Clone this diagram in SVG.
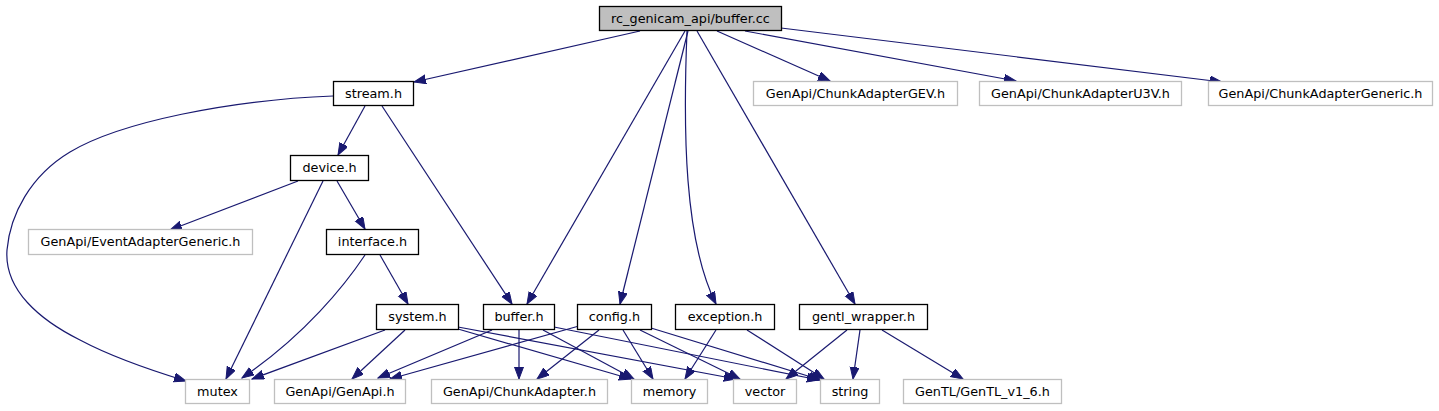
<svg xmlns="http://www.w3.org/2000/svg" width="1439" height="411" viewBox="0 0 1439 411">
<defs>
<style>
.n rect{fill:#ffffff;stroke:#000000;stroke-width:1.3}
.x rect{fill:#ffffff;stroke:#bfbfbf;stroke-width:1.3}
.r rect{fill:#bfbfbf;stroke:#000000;stroke-width:1.3}
text{font-family:"DejaVu Sans",sans-serif;font-size:12.8px;fill:#000000;text-anchor:middle}
#edges path{fill:none;stroke:#191970;stroke-width:1.2;marker-end:url(#ah)}
</style>
<marker id="ah" markerUnits="userSpaceOnUse" markerWidth="13" markerHeight="10" refX="12" refY="4.5" orient="auto">
<path d="M0,0 L12,4.5 L0,9 z" fill="#191970" stroke="#191970" stroke-width="1"/>
</marker>
</defs>
<rect width="1439" height="411" fill="#ffffff"/>
<g id="edges">
<path d="M640,31 L414,82"/>
<path d="M685,31 L527,304"/>
<path d="M688,31 L620,304"/>
<path d="M687,31 C683,130 684,240 716,304"/>
<path d="M697,31 L855,304"/>
<path d="M717,31 L830,81"/>
<path d="M745,31 L1016,81"/>
<path d="M781,28 L1222,82"/>
<path d="M333,96 C230,100 120,122 70,152 C30,176 10,215 7,250 C4,290 40,320 80,340 C110,356 150,370 186,381"/>
<path d="M365,106 L338,155"/>
<path d="M382,106 L512,304"/>
<path d="M298,181 L170,230"/>
<path d="M323,181 L226,379"/>
<path d="M337,181 L365,229"/>
<path d="M365,255 C345,285 305,335 242,378"/>
<path d="M380,255 L408,304"/>
<path d="M385,330 L252,379"/>
<path d="M405,330 L352,379"/>
<path d="M458,329 L631,379"/>
<path d="M458,327 L736,379"/>
<path d="M492,330 L378,378"/>
<path d="M519,330 L519,379"/>
<path d="M543,330 L634,379"/>
<path d="M554,327 L819,380"/>
<path d="M579,326 L390,379"/>
<path d="M599,330 L537,379"/>
<path d="M623,330 L653,379"/>
<path d="M640,330 L740,379"/>
<path d="M651,328 L821,380"/>
<path d="M716,330 L685,379"/>
<path d="M747,330 L824,379"/>
<path d="M847,330 L786,379"/>
<path d="M860,330 L853,379"/>
<path d="M882,330 L963,379"/>
</g>
<g id="node_root" class="r"><rect x="599.5" y="6.5" width="182" height="24"/><text x="690.5" y="22.5">rc_genicam_api/buffer.cc</text></g>
<g id="node_stream" class="n"><rect x="333.5" y="81.5" width="80" height="24"/><text x="373.5" y="97.5">stream.h</text></g>
<g id="node_gev" class="x"><rect x="753.5" y="81.5" width="204" height="24"/><text x="855.5" y="97.5">GenApi/ChunkAdapterGEV.h</text></g>
<g id="node_u3v" class="x"><rect x="979.5" y="81.5" width="202" height="24"/><text x="1080.5" y="97.5">GenApi/ChunkAdapterU3V.h</text></g>
<g id="node_generic" class="x"><rect x="1208.5" y="81.5" width="224" height="24"/><text x="1320.5" y="97.5">GenApi/ChunkAdapterGeneric.h</text></g>
<g id="node_device" class="n"><rect x="290.5" y="155.5" width="78" height="25"/><text x="329.5" y="172">device.h</text></g>
<g id="node_event" class="x"><rect x="28.5" y="229.5" width="224" height="25"/><text x="140.5" y="246">GenApi/EventAdapterGeneric.h</text></g>
<g id="node_interface" class="n"><rect x="326.5" y="229.5" width="92" height="25"/><text x="372.5" y="246">interface.h</text></g>
<g id="node_system" class="n"><rect x="376.5" y="304.5" width="82" height="25"/><text x="417.5" y="321">system.h</text></g>
<g id="node_bufferh" class="n"><rect x="483.5" y="304.5" width="71" height="25"/><text x="519" y="321">buffer.h</text></g>
<g id="node_config" class="n"><rect x="577.5" y="304.5" width="74" height="25"/><text x="614.5" y="321">config.h</text></g>
<g id="node_exception" class="n"><rect x="675.5" y="304.5" width="99" height="25"/><text x="725" y="321">exception.h</text></g>
<g id="node_gentl_wrapper" class="n"><rect x="799.5" y="304.5" width="128" height="25"/><text x="863.5" y="321">gentl_wrapper.h</text></g>
<g id="node_mutex" class="x"><rect x="185.5" y="379.5" width="64" height="24"/><text x="217.5" y="395.5">mutex</text></g>
<g id="node_genapi" class="x"><rect x="274.5" y="379.5" width="131" height="24"/><text x="340" y="395.5">GenApi/GenApi.h</text></g>
<g id="node_chunkadapter" class="x"><rect x="431.5" y="379.5" width="176" height="24"/><text x="519.5" y="395.5">GenApi/ChunkAdapter.h</text></g>
<g id="node_memory" class="x"><rect x="631.5" y="379.5" width="76" height="24"/><text x="669.5" y="395.5">memory</text></g>
<g id="node_vector" class="x"><rect x="733.5" y="379.5" width="63" height="24"/><text x="765" y="395.5">vector</text></g>
<g id="node_string" class="x"><rect x="820.5" y="379.5" width="59" height="24"/><text x="850" y="395.5">string</text></g>
<g id="node_gentl" class="x"><rect x="903.5" y="379.5" width="158" height="24"/><text x="982.5" y="395.5">GenTL/GenTL_v1_6.h</text></g>
</svg>
